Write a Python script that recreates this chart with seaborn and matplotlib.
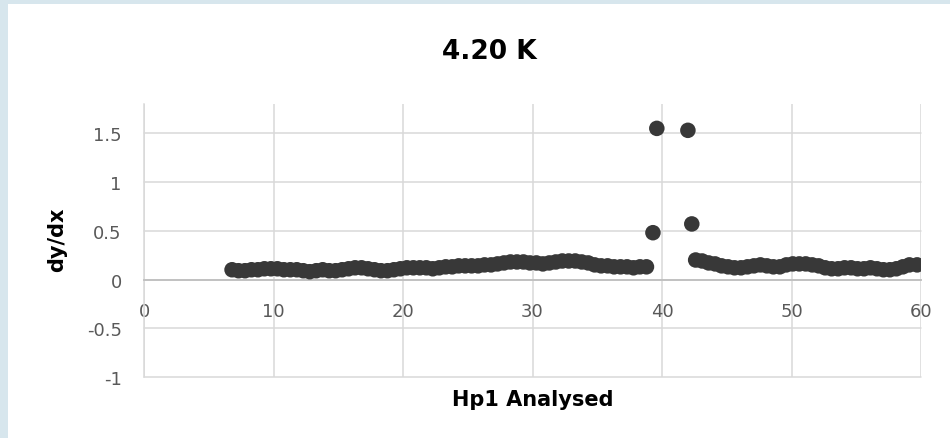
import matplotlib
matplotlib.use("Agg")
import matplotlib.pyplot as plt
from matplotlib.patches import Rectangle
import pandas as pd
import seaborn as sns

# Derivative readings below the transition
x_low = [6.8, 7.3, 7.8, 8.3, 8.8, 9.3, 9.8, 10.3, 10.8, 11.3, 11.8, 12.3, 12.8,
         13.3, 13.8, 14.3, 14.8, 15.3, 15.8, 16.3, 16.8, 17.3, 17.8, 18.3, 18.8,
         19.3, 19.8, 20.3, 20.8, 21.3, 21.8, 22.3, 22.8, 23.3, 23.8, 24.3, 24.8,
         25.3, 25.8, 26.3, 26.8, 27.3, 27.8, 28.3, 28.8, 29.3, 29.8, 30.3, 30.8,
         31.3, 31.8, 32.3, 32.8, 33.3, 33.8, 34.3, 34.8, 35.3, 35.8, 36.3, 36.8,
         37.3, 37.8, 38.3, 38.8]
y_low = [0.10, 0.09, 0.09, 0.10, 0.10, 0.11, 0.11, 0.11, 0.10, 0.10, 0.10, 0.09, 0.08,
         0.09, 0.10, 0.09, 0.09, 0.10, 0.11, 0.12, 0.12, 0.11, 0.10, 0.09, 0.09,
         0.10, 0.11, 0.12, 0.12, 0.12, 0.12, 0.11, 0.12, 0.13, 0.13, 0.14, 0.14,
         0.14, 0.14, 0.15, 0.15, 0.16, 0.17, 0.18, 0.18, 0.18, 0.17, 0.17, 0.16,
         0.17, 0.18, 0.19, 0.19, 0.19, 0.18, 0.17, 0.15, 0.14, 0.14, 0.13, 0.13,
         0.13, 0.12, 0.13, 0.13]

# Readings around the transition
x_peak = [39.3, 39.6, 42.0, 42.3]
y_peak = [0.48, 1.55, 1.53, 0.57]

# Readings above the transition
x_high = [42.6, 43.1, 43.6, 44.1, 44.6, 45.1, 45.6, 46.1, 46.6, 47.1, 47.6, 48.1,
          48.6, 49.1, 49.6, 50.1, 50.6, 51.1, 51.6, 52.1, 52.6, 53.1, 53.6, 54.1,
          54.6, 55.1, 55.6, 56.1, 56.6, 57.1, 57.6, 58.1, 58.6, 59.1, 59.7]
y_high = [0.20, 0.19, 0.17, 0.16, 0.14, 0.13, 0.12, 0.12, 0.13, 0.14, 0.15, 0.14,
          0.13, 0.13, 0.15, 0.16, 0.16, 0.16, 0.15, 0.14, 0.12, 0.11, 0.11, 0.12,
          0.12, 0.11, 0.11, 0.12, 0.11, 0.10, 0.10, 0.11, 0.13, 0.15, 0.15]

x_ticks = [0, 10, 20, 30, 40, 50, 60]
y_ticks = [-1, -0.5, 0, 0.5, 1, 1.5]
y_tick_labels = ["-1", "-0.5", "0", "0.5", "1", "1.5"]

df = pd.DataFrame({
    "Hp1 Analysed": x_low + x_peak + x_high,
    "dy/dx": y_low + y_peak + y_high,
})

sns.set_theme(style="white")
plt.rcParams["font.family"] = ["DejaVu Sans"]

fig = plt.figure(figsize=(9.5, 4.39), dpi=100)
fig.patch.set_facecolor("white")
# light frame strips on the left and top edges
fig.patches.append(Rectangle((0, 0), 8 / 950, 1, transform=fig.transFigure,
                             facecolor="#d7e6ed", edgecolor="none", zorder=0))
fig.patches.append(Rectangle((0, 1 - 5 / 439), 1, 5 / 439, transform=fig.transFigure,
                             facecolor="#d7e6ed", edgecolor="none", zorder=0))

ax = fig.add_axes([144 / 950, 1 - 378 / 439, (921 - 144) / 950, (378 - 105) / 439])

sns.scatterplot(data=df, x="Hp1 Analysed", y="dy/dx", ax=ax, color="#383838",
                s=125, edgecolor="none", linewidth=0, zorder=3)

ax.set_xlim(0, 60)
ax.set_ylim(-1, 1.8)
ax.set_xticks(x_ticks)
ax.set_yticks(y_ticks)
ax.set_yticklabels(y_tick_labels)

ax.grid(True, color="#d9d9d9", linewidth=1.1, zorder=0)
ax.set_axisbelow(True)
for gl in ax.get_ygridlines() + ax.get_xgridlines():
    gl.set_clip_on(False)

for side in ["top", "right"]:
    ax.spines[side].set_visible(False)
ax.spines["left"].set_color("#d9d9d9")
ax.spines["left"].set_linewidth(1.1)
ax.spines["bottom"].set_position(("data", 0))
ax.spines["bottom"].set_color("#bfbfbf")
ax.spines["bottom"].set_linewidth(1.3)

ax.tick_params(axis="x", length=0, pad=16, labelsize=13, labelcolor="#595959")
ax.tick_params(axis="y", length=0, pad=16, labelsize=13, labelcolor="#595959")

ax.set_xlabel("")
ax.set_ylabel("")
fig.text(533 / 950, 1 - 400 / 439, "Hp1 Analysed", ha="center", va="center",
         fontsize=15, fontweight="bold", color="black")
fig.text(57 / 950, 1 - 240 / 439, "dy/dx", ha="center", va="center", rotation=90,
         fontsize=15, fontweight="bold", color="black")
fig.text(489 / 950, 1 - 52 / 439, "4.20 K", ha="center", va="center",
         fontsize=19, fontweight="bold", color="black")

fig.savefig("out.png", dpi=100, facecolor=fig.get_facecolor())
